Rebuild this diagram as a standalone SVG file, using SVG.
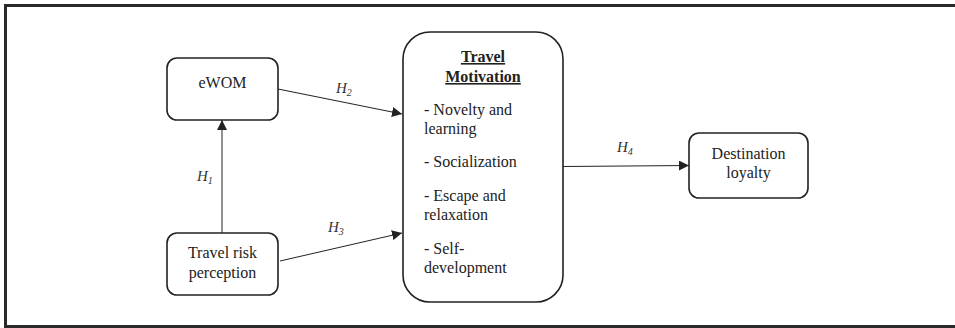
<svg xmlns="http://www.w3.org/2000/svg" width="955" height="328" viewBox="0 0 955 328">
<style>
text{font-family:"Liberation Serif","Times New Roman",serif;fill:#222;}
.t{font-size:16px;}
.b{font-weight:bold;text-decoration:underline;}
.h{font-size:15px;font-style:italic;fill:#333;}
.s{font-size:10px;font-style:italic;}
.box{fill:#fff;stroke:#222;stroke-width:1.6;}
.c{stroke:#222;stroke-width:1;fill:none;}
</style>
<defs>
<marker id="ah" viewBox="0 0 10 10" refX="10" refY="5" markerWidth="10" markerHeight="10" markerUnits="userSpaceOnUse" orient="auto">
<path d="M0,0 L10,5 L0,10 Z" fill="#222"/>
</marker>
</defs>
<rect x="0" y="0" width="955" height="328" fill="#fff"/>
<g id="frame" fill="#2a2a2a">
<rect x="4" y="4" width="951" height="3"/>
<rect x="4" y="4" width="3" height="324"/>
<rect x="4" y="325" width="951" height="3"/>
</g>
<g id="connectors">
<line class="c" x1="222" y1="233" x2="222" y2="120" marker-end="url(#ah)"/>
<line class="c" x1="278" y1="89" x2="402" y2="114" marker-end="url(#ah)"/>
<line class="c" x1="280" y1="261" x2="402" y2="233" marker-end="url(#ah)"/>
<line class="c" x1="563" y1="166.5" x2="689" y2="165.5" marker-end="url(#ah)"/>
<text class="h" x="197" y="181">H<tspan class="s" dy="3">1</tspan></text>
<text class="h" x="336" y="93">H<tspan class="s" dy="3">2</tspan></text>
<text class="h" x="328" y="232">H<tspan class="s" dy="3">3</tspan></text>
<text class="h" x="617" y="152">H<tspan class="s" dy="3">4</tspan></text>
</g>
<g id="ewom">
<rect class="box" x="167" y="58" width="111" height="62" rx="10"/>
<text class="t" x="222.5" y="88" text-anchor="middle">eWOM</text>
</g>
<g id="risk">
<rect class="box" x="167" y="233" width="111" height="62" rx="10"/>
<text class="t" x="222.5" y="258" text-anchor="middle">Travel risk</text>
<text class="t" x="222.5" y="278" text-anchor="middle">perception</text>
</g>
<g id="motivation">
<rect class="box" x="403" y="32" width="160" height="270" rx="27"/>
<text class="t b" x="483" y="62" text-anchor="middle">Travel</text>
<text class="t b" x="483" y="82" text-anchor="middle">Motivation</text>
<text class="t" x="424" y="115">- Novelty and</text>
<text class="t" x="424" y="134">learning</text>
<text class="t" x="424" y="167">- Socialization</text>
<text class="t" x="424" y="201">- Escape and</text>
<text class="t" x="424" y="220">relaxation</text>
<text class="t" x="424" y="254">- Self-</text>
<text class="t" x="424" y="273">development</text>
</g>
<g id="loyalty">
<rect class="box" x="689" y="133" width="119" height="65" rx="10"/>
<text class="t" x="748.5" y="159" text-anchor="middle">Destination</text>
<text class="t" x="748.5" y="178" text-anchor="middle">loyalty</text>
</g>
</svg>
